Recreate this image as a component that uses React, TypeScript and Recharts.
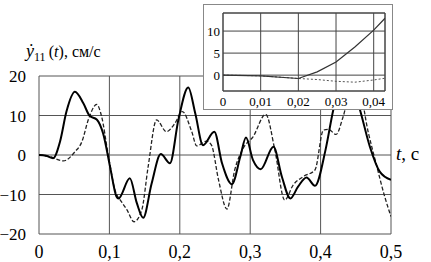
import React from 'react';
import { LineChart, Line, XAxis, YAxis, CartesianGrid, ReferenceArea } from 'recharts';

// main chart: velocity, s / cm/s
const solidT = [0, 0.01, 0.02, 0.03, 0.039, 0.051, 0.063, 0.072, 0.082, 0.091, 0.101, 0.11, 0.113, 0.129, 0.139, 0.148, 0.16, 0.173, 0.186, 0.198, 0.212, 0.222, 0.233, 0.249, 0.26, 0.274, 0.286, 0.294, 0.304, 0.315, 0.333, 0.345, 0.357, 0.368, 0.38, 0.392, 0.407, 0.418, 0.437, 0.456, 0.47, 0.484, 0.5];
const solidV = [0, -0.2, -0.8, 3.5, 11, 16, 13.1, 9.9, 9, 5.5, -3, -10.5, -11, -5.9, -12.2, -15.9, -7.2, 0.25, -2.1, 8.9, 17.1, 10.5, 2.5, 5.9, -2.1, -7.4, -0.4, 4.4, -1.3, -3.6, 2.1, -5.5, -11, -8, -5.7, -7.8, 1.3, 11.4, 22, 11.4, 2.1, -4.2, -6.3];

const dashT = [0, 0.015, 0.0345, 0.051, 0.061, 0.07, 0.082, 0.089, 0.098, 0.108, 0.117, 0.125, 0.135, 0.146, 0.155, 0.167, 0.181, 0.193, 0.2035, 0.217, 0.224, 0.238, 0.245, 0.255, 0.267, 0.278, 0.29, 0.304, 0.322, 0.335, 0.349, 0.361, 0.375, 0.392, 0.404, 0.411, 0.422, 0.432, 0.449, 0.468, 0.48, 0.491, 0.5];
const dashV = [0, -0.4, -1.5, 0.8, 3.4, 8.9, 12.8, 9.7, 0.4, -8.9, -11.8, -13.9, -16.9, -13.9, -3, 8.9, 5.9, 8, 11, 5.9, 2.3, 3.5, 2.5, -6.3, -13.7, -3.8, 1.7, 4.6, 10.3, 1.3, -11.4, -7.6, -5.5, -3.8, 6.3, 6.5, 5.2, 9.7, 21, 5.5, -3, -10.5, -15.6];

const mainXTicks = [0, 0.1, 0.2, 0.3, 0.4, 0.5];
const mainYTicks = [-20, -10, 0, 10, 20];

// inset: first 0.043 s
const insetT = [0, 0.01, 0.02, 0.025, 0.03, 0.035, 0.04, 0.043];
const insetSolid = [0, -0.15, -0.76, 0.75, 3.0, 6.4, 10.2, 12.9];
const insetDashed = [0, -0.15, -0.76, -1.0, -1.4, -1.6, -1.1, -0.7];

const insetXTicks = [0, 0.01, 0.02, 0.03, 0.04];
const insetYTicks = [0, 5, 10];

const serif = "'Times New Roman', 'Liberation Serif', 'DejaVu Serif', serif";
const comma = (v: number) => String(v).replace('.', ',');
const minus = (v: number) => (v < 0 ? '\u2212' + Math.abs(v) : String(v));

const solidData = solidT.map((t, i) => ({ t, v: solidV[i] }));
const dashData = dashT.map((t, i) => ({ t, v: dashV[i] }));
const insetData = insetT.map((t, i) => ({ t, a: insetSolid[i], b: insetDashed[i] }));

export default function App() {
    return (
        <div style={{ position: 'absolute', left: 0, top: 0, width: 431, height: 262, background: '#fff', fontFamily: serif }}>
            <LineChart width={431} height={262} margin={{ top: 76, right: 40, bottom: 0, left: 0 }} style={{ fontFamily: serif }}>
                <CartesianGrid stroke="#555" />
                <XAxis
                    type="number"
                    dataKey="t"
                    domain={[0, 0.5]}
                    ticks={mainXTicks}
                    interval={0}
                    tickFormatter={comma}
                    height={28}
                    tickSize={0}
                    tickMargin={11}
                    axisLine={false}
                    tick={{ fill: '#000', fontSize: 18, style: { fontFamily: serif } }}
                    allowDataOverflow
                />
                <YAxis
                    type="number"
                    domain={[-20, 20]}
                    ticks={mainYTicks}
                    interval={0}
                    tickFormatter={minus}
                    width={39}
                    tickSize={0}
                    tickMargin={13}
                    axisLine={false}
                    tick={{ fill: '#000', fontSize: 17, style: { fontFamily: serif } }}
                    allowDataOverflow
                />
                <Line data={dashData} dataKey="v" type="monotone" stroke="#222" strokeWidth={1.3} strokeDasharray="4 2" dot={false} isAnimationActive={false} />
                <Line data={solidData} dataKey="v" type="monotone" stroke="#000" strokeWidth={2} dot={false} isAnimationActive={false} />
            </LineChart>

            {/* axis titles */}
            <div style={{ position: 'absolute', left: 26, top: 41, fontSize: 16, color: '#000', whiteSpace: 'nowrap', lineHeight: '20px' }}>
                <span style={{ fontStyle: 'italic', fontSize: 18 }}>{'y\u0307'}</span>
                <sub style={{ fontSize: 12, verticalAlign: -4 }}>11</sub>
                <span>&thinsp;(</span>
                <span style={{ fontStyle: 'italic' }}>t</span>
                <span>), см/с</span>
            </div>
            <div style={{ position: 'absolute', left: 396, top: 142, fontSize: 19, color: '#000', whiteSpace: 'nowrap', lineHeight: '24px' }}>
                <span style={{ fontStyle: 'italic' }}>t</span>, с
            </div>

            {/* inset */}
            <div style={{ position: 'absolute', left: 203, top: 4, width: 190, height: 106, background: '#fff', border: '1px solid #888', boxSizing: 'border-box' }}>
                <LineChart width={188} height={104} data={insetData} margin={{ top: 8, right: 7, bottom: 0, left: 0 }} style={{ fontFamily: serif }}>
                    <CartesianGrid stroke="#444" />
                    <ReferenceArea x1={0} x2={0.043} y1={-3.6} y2={14.1} fill="none" stroke="#444" />
                    <XAxis
                        type="number"
                        dataKey="t"
                        domain={[0, 0.043]}
                        ticks={insetXTicks}
                        interval={0}
                        tickFormatter={comma}
                        height={18}
                        tickSize={0}
                        tickMargin={6}
                        axisLine={false}
                        tick={{ fill: '#000', fontSize: 13, style: { fontFamily: serif } }}
                        allowDataOverflow
                    />
                    <YAxis
                        type="number"
                        domain={[-3.6, 14.1]}
                        ticks={insetYTicks}
                        interval={0}
                        width={19}
                        tickSize={0}
                        tickMargin={3}
                        axisLine={false}
                        tick={{ fill: '#000', fontSize: 13, style: { fontFamily: serif } }}
                        allowDataOverflow
                    />
                    <Line dataKey="b" type="linear" stroke="#555" strokeWidth={1} strokeDasharray="2 2" dot={false} isAnimationActive={false} />
                    <Line dataKey="a" type="linear" stroke="#333" strokeWidth={1.2} dot={false} isAnimationActive={false} />
                </LineChart>
            </div>
        </div>
    );
}
